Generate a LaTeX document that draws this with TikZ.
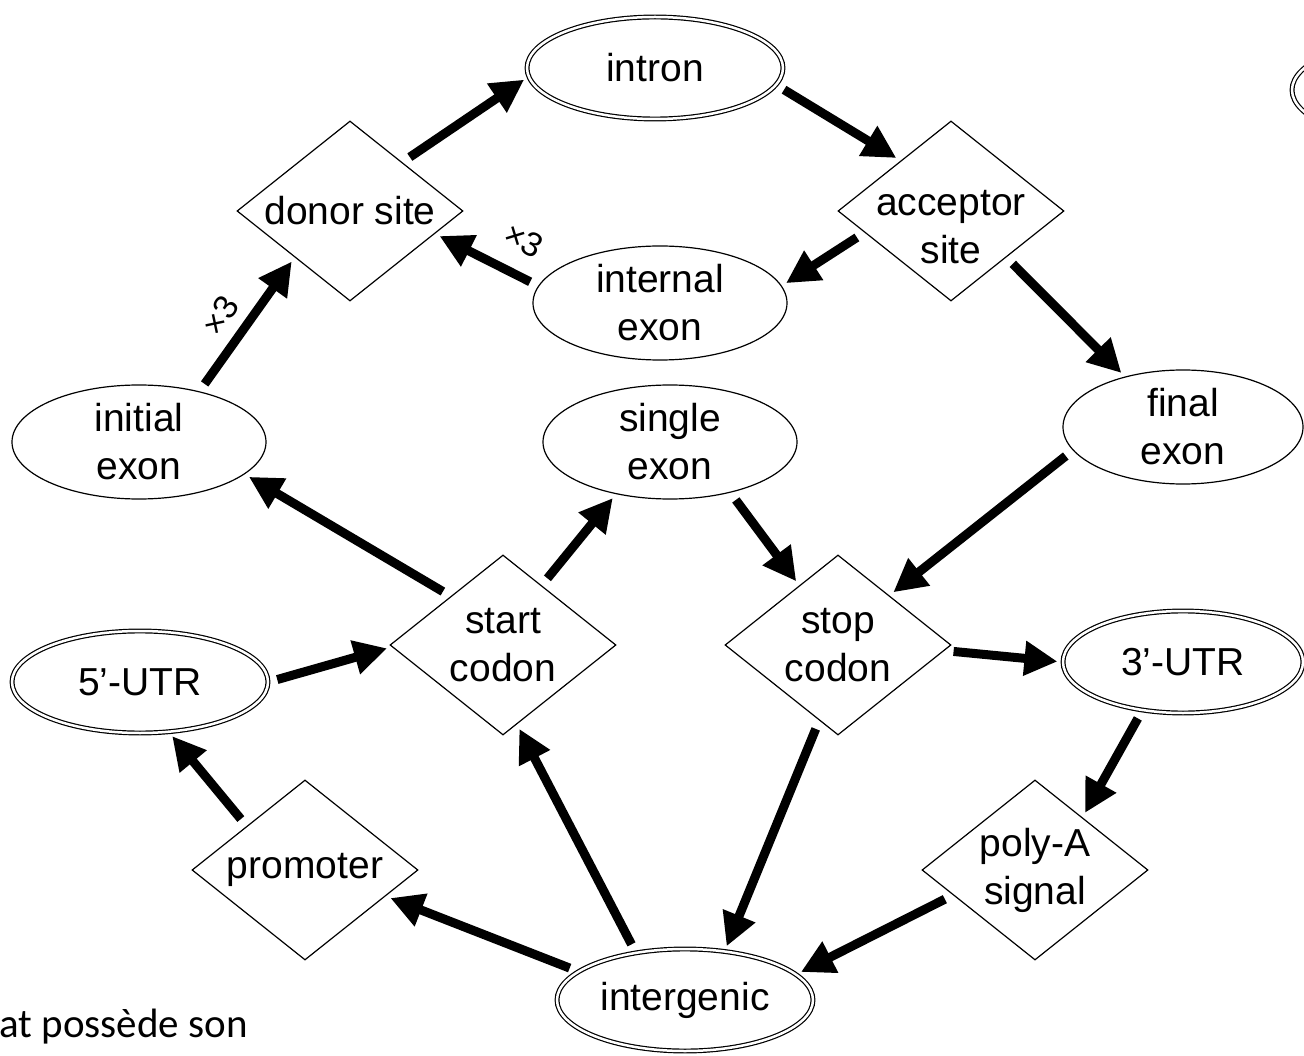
\documentclass[tikz,border=0pt]{standalone}
\usepackage{fontspec}
\setmainfont{Liberation Sans}
\newfontfamily\slidefont{Carlito}
\usetikzlibrary{
  arrows.meta,
  shapes.geometric
}
\tikzset{
  % For plain states (the exons).
  state/.style={
    ellipse,
    draw,
    line width=1.2pt,
    inner sep=0pt,
    minimum width=254pt,
    minimum height=114pt,
    align=center,
    font=\fontsize{39pt}{48pt}\selectfont},
%
  % For non-coding states, drawn with a double border.
  terminal/.style={
    state,
    double,
    double distance=2.5pt,
    minimum width=256pt,
    minimum height=102pt},
%
  % For signals (splice sites, codons, ...).  The negative inner sep lets
  % the minimum size decide, so that the text may run close to the edges.
  signal/.style={
    diamond,
    draw,
    line width=1.2pt,
    aspect=1.27,
    inner sep=-8pt,
    minimum width=226pt,
    minimum height=180pt,
    align=center,
    font=\fontsize{39pt}{48pt}\selectfont},
%
  % For thick transitions with one arrow.
  transition/.style={
    line width=9pt,
    -{Triangle[length=33pt,width=33pt]},
    shorten <=9pt,
    shorten >=5pt},
%
  % For repetition counts along a transition.
  multiplier/.style={
    inner sep=0pt,
    font=\fontsize{34pt}{34pt}\selectfont},
%
  % For the slide text that runs off the page.
  slide/.style={
    anchor=base east,
    inner sep=0pt,
    font=\slidefont\fontsize{41pt}{41pt}\selectfont}
}

\begin{document}
\begin{tikzpicture}[x=1pt,y=-1pt]
  \useasboundingbox (0,0) rectangle (1304,1056);

  % Splice loop at the top.
  \node[terminal] (intron) at (655,68) {intron};
  \node[signal] (donor) at (350,211) {donor site};
  % The strut pushes the two lines a bit below the centre; the extra
  % negative ysep keeps the diamond at its minimum size.
  \node[signal, inner ysep=-24pt] (acceptor) at (951,211)
    {\rule{0pt}{58pt}acceptor\\site};
  \node[state] (internal) at (660,303) {internal\\exon};

  % Exons.
  \node[state] (initial) at (139,442) {initial\\exon};
  \node[state] (single) at (670,442) {single\\exon};
  \node[state, minimum width=240pt] (final) at (1183,427) {final\\exon};

  % Codons and untranslated regions.
  \node[signal] (start) at (503,645) {start\\codon};
  \node[signal] (stop) at (838,645) {stop\\codon};
  \node[terminal] (utr5) at (140,682) {5’-UTR};
  \node[terminal, minimum width=240pt] (utr3) at (1183,662) {3’-UTR};

  % Bottom row.
  \node[signal] (promoter) at (305,870) {promoter};
  \node[signal] (polya) at (1035,870) {poly-A\\signal};
  \node[terminal] (intergenic) at (685,1000) {intergenic};

  % Part of the legend, cut off by the page edge.
  \node[terminal] (legend) at (1420,90) {};

  % Transitions, from border anchor to border anchor.
  \foreach \from/\to in {
      donor.43/intron.184, intron.-8/acceptor.135,
      acceptor.194/internal.8, internal.172/donor.-15,
      initial.40/donor.220, acceptor.-40/final.139,
      final.192/stop.44, single.-40/stop.123,
      start.57/single.224, start.137/initial.-17,
      utr5.0/start.181, stop.-3/utr3.180,
      utr3.230/polya.48, polya.197/intergenic.13,
      stop.256/intergenic.51, intergenic.136/start.280,
      intergenic.165/promoter.-18, promoter.143/utr5.300}
    \draw[transition] (\from) -- (\to);

  \node[multiplier, rotate=57] (times1) at (220,316) {×3};
  \node[multiplier, rotate=-28] (times2) at (524,240) {×3};

  \node[slide] (note) at (248,1037) {at possède son};
\end{tikzpicture}
\end{document}
